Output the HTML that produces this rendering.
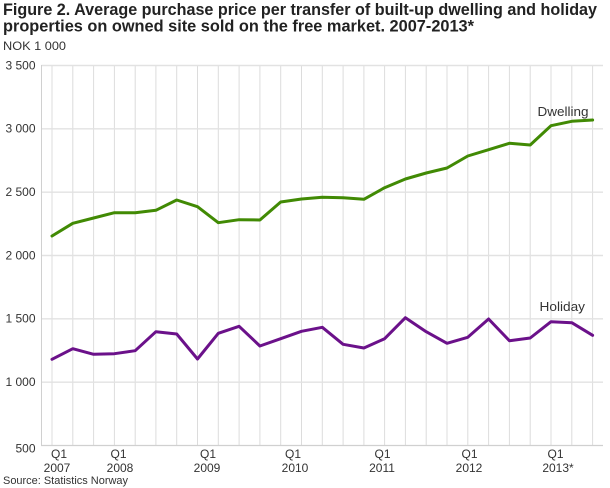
<!DOCTYPE html>
<html>
<head>
<meta charset="utf-8">
<style>
  html, body { margin:0; padding:0; background:#fff; }
  svg { display:block; }
  text { font-family: "Liberation Sans", "DejaVu Sans", sans-serif; }
</style>
</head>
<body>
<svg width="610" height="488" viewBox="0 0 610 488" xmlns="http://www.w3.org/2000/svg">
  <rect x="0" y="0" width="610" height="488" fill="#fff"/>

  <!-- Title -->
  <text x="3" y="15" font-size="17" font-weight="bold" fill="#222" textLength="594" lengthAdjust="spacingAndGlyphs">Figure 2. Average purchase price per transfer of built-up dwelling and holiday</text>
  <text x="3" y="31.5" font-size="17" font-weight="bold" fill="#222" textLength="471" lengthAdjust="spacingAndGlyphs">properties on owned site sold on the free market. 2007-2013*</text>
  <text x="3" y="50" font-size="12" fill="#333" textLength="63" lengthAdjust="spacingAndGlyphs">NOK 1 000</text>

  <!-- vertical gridlines -->
  <g stroke="#dcdcdc" stroke-width="1">
    <line x1="52" y1="65" x2="52" y2="445.5"/>
    <line x1="72.8" y1="65" x2="72.8" y2="445.5"/>
    <line x1="93.6" y1="65" x2="93.6" y2="445.5"/>
    <line x1="114.4" y1="65" x2="114.4" y2="445.5"/>
    <line x1="135.2" y1="65" x2="135.2" y2="445.5"/>
    <line x1="155.9" y1="65" x2="155.9" y2="445.5"/>
    <line x1="176.7" y1="65" x2="176.7" y2="445.5"/>
    <line x1="197.5" y1="65" x2="197.5" y2="445.5"/>
    <line x1="218.3" y1="65" x2="218.3" y2="445.5"/>
    <line x1="239.1" y1="65" x2="239.1" y2="445.5"/>
    <line x1="259.9" y1="65" x2="259.9" y2="445.5"/>
    <line x1="280.7" y1="65" x2="280.7" y2="445.5"/>
    <line x1="301.5" y1="65" x2="301.5" y2="445.5"/>
    <line x1="322.3" y1="65" x2="322.3" y2="445.5"/>
    <line x1="343.1" y1="65" x2="343.1" y2="445.5"/>
    <line x1="363.9" y1="65" x2="363.9" y2="445.5"/>
    <line x1="384.6" y1="65" x2="384.6" y2="445.5"/>
    <line x1="405.4" y1="65" x2="405.4" y2="445.5"/>
    <line x1="426.2" y1="65" x2="426.2" y2="445.5"/>
    <line x1="447" y1="65" x2="447" y2="445.5"/>
    <line x1="467.8" y1="65" x2="467.8" y2="445.5"/>
    <line x1="488.6" y1="65" x2="488.6" y2="445.5"/>
    <line x1="509.4" y1="65" x2="509.4" y2="445.5"/>
    <line x1="530.2" y1="65" x2="530.2" y2="445.5"/>
    <line x1="551" y1="65" x2="551" y2="445.5"/>
    <line x1="571.8" y1="65" x2="571.8" y2="445.5"/>
    <line x1="592.6" y1="65" x2="592.6" y2="445.5"/>
  </g>

  <!-- horizontal gridlines -->
  <g stroke="#e2e2e2" stroke-width="1.4">
    <line x1="41.5" y1="65.5" x2="603" y2="65.5"/>
    <line x1="41.5" y1="128.8" x2="603" y2="128.8"/>
    <line x1="41.5" y1="192.2" x2="603" y2="192.2"/>
    <line x1="41.5" y1="255.5" x2="603" y2="255.5"/>
    <line x1="41.5" y1="318.8" x2="603" y2="318.8"/>
    <line x1="41.5" y1="382.2" x2="603" y2="382.2"/>
  </g>
  <!-- axes -->
  <line x1="41.5" y1="65" x2="41.5" y2="446" stroke="#d0d0d0" stroke-width="1"/>
  <line x1="41" y1="445.5" x2="603" y2="445.5" stroke="#d0d0d0" stroke-width="1.2"/>

  <!-- y labels -->
  <g font-size="12" fill="#333" text-anchor="end">
    <text x="35.5" y="69.5">3 500</text>
    <text x="35.5" y="132.5">3 000</text>
    <text x="35.5" y="196">2 500</text>
    <text x="35.5" y="259.5">2 000</text>
    <text x="35.5" y="322.5">1 500</text>
    <text x="35.5" y="386">1 000</text>
    <text x="35.5" y="452.5">500</text>
  </g>

  <!-- x labels -->
  <g font-size="12" fill="#333" text-anchor="middle">
    <text x="59" y="458">Q1</text><text x="57" y="472">2007</text>
    <text x="118.5" y="458">Q1</text><text x="120" y="472">2008</text>
    <text x="208" y="458">Q1</text><text x="207" y="472">2009</text>
    <text x="293" y="458">Q1</text><text x="295" y="472">2010</text>
    <text x="382.5" y="458">Q1</text><text x="382" y="472">2011</text>
    <text x="469.5" y="458">Q1</text><text x="469" y="472">2012</text>
    <text x="555.5" y="458">Q1</text><text x="558" y="472">2013*</text>
  </g>

  <text x="3" y="484" font-size="11" fill="#333" textLength="125" lengthAdjust="spacingAndGlyphs">Source: Statistics Norway</text>

  <!-- series -->
  <polyline fill="none" stroke="#418a04" stroke-width="3" stroke-linejoin="round" stroke-linecap="round"
    points="52,236 72.8,223.3 93.6,218 114.4,212.7 135.2,212.7 155.9,210.3 176.7,200 197.5,206.7 218.3,222.7 239.1,219.7 259.9,220 280.7,202 301.5,199 322.3,197.3 343.1,197.7 363.9,199.3 384.6,187.7 405.4,179 426.2,173 447,168 467.8,156 488.6,149.7 509.4,143.3 530.2,145 551,125.7 571.8,121.3 592.6,120"/>
  <polyline fill="none" stroke="#6b118a" stroke-width="3" stroke-linejoin="round" stroke-linecap="round"
    points="52,359.3 72.8,348.7 93.6,354.3 114.4,353.7 135.2,350.7 155.9,331.7 176.7,334 197.5,359 218.3,333.3 239.1,326.3 259.9,346 280.7,338.7 301.5,331.3 322.3,327.3 343.1,344.3 363.9,348 384.6,338.7 405.4,317.7 426.2,331.7 447,343.3 467.8,337.3 488.6,319 509.4,340.7 530.2,338 551,321.7 571.8,322.7 592.6,335.3"/>

  <!-- series labels -->
  <text x="537.5" y="116" font-size="13" fill="#333" textLength="51" lengthAdjust="spacingAndGlyphs">Dwelling</text>
  <text x="539.5" y="311" font-size="13" fill="#333" textLength="45.5" lengthAdjust="spacingAndGlyphs">Holiday</text>
</svg>
</body>
</html>
